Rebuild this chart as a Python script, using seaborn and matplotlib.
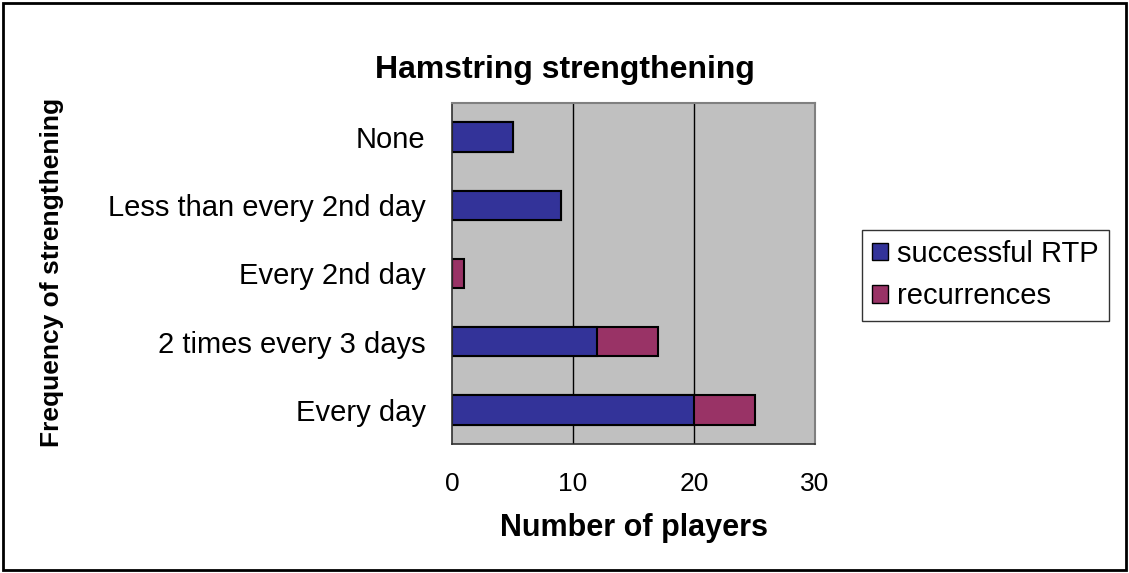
import matplotlib
matplotlib.use("Agg")
import matplotlib.pyplot as plt
from matplotlib.patches import Rectangle, Patch
import seaborn as sns
import pandas as pd

categories = ["None", "Less than every 2nd day", "Every 2nd day", "2 times every 3 days", "Every day"]
successful_rtp = [5, 9, 0, 12, 20]
recurrences = [0, 0, 1, 5, 5]
x_ticks = [0, 10, 20, 30]

sns.set_theme(style="white")
plt.rcParams['font.family'] = ['Liberation Sans', 'DejaVu Sans']
plt.rcParams['text.color'] = 'black'
plt.rcParams['xtick.color'] = 'black'
plt.rcParams['ytick.color'] = 'black'
plt.rcParams['axes.labelcolor'] = 'black'

totals = [s + r for s, r in zip(successful_rtp, recurrences)]
df = pd.DataFrame({"cat": categories, "succ": successful_rtp, "total": totals})

fig = plt.figure(figsize=(11.29, 5.73), dpi=100)
ax = fig.add_axes([452/1129, 1-444/573, (815-452)/1129, (444-103)/573])
ax.set_facecolor("#C0C0C0")

blue = "#333399"
maroon = "#993366"
sns.barplot(data=df, y="cat", x="total", orient="h", color=maroon, saturation=1,
            edgecolor="black", linewidth=1.5, width=0.43, ax=ax, order=categories)
sns.barplot(data=df, y="cat", x="succ", orient="h", color=blue, saturation=1,
            edgecolor="black", linewidth=1.5, width=0.43, ax=ax, order=categories)

ax.set_xlim(0, 30)
ax.set_ylim(4.5, -0.5)
ax.set_xticks(x_ticks)
ax.set_xticklabels([str(t) for t in x_ticks], fontsize=19)
for xv in [10, 20]:
    ax.axvline(xv, color="black", linewidth=1, zorder=0.5)
ax.set_axisbelow(True)

ax.set_yticks(range(len(categories)))
ax.set_yticklabels(categories, fontsize=21)
ax.set_yticks([i - 0.5 for i in range(len(categories) + 1)], minor=True)
ax.tick_params(axis="y", which="major", length=0, pad=19)
ax.tick_params(axis="y", which="minor", length=7, width=1, color="#404040", direction="out")
ax.tick_params(axis="x", which="major", length=6, width=1, color="#404040", direction="out", pad=14)

for s in ["top", "right"]:
    ax.spines[s].set_color("#808080")
    ax.spines[s].set_linewidth(1.5)
for s in ["left", "bottom"]:
    ax.spines[s].set_color("#303030")
    ax.spines[s].set_linewidth(1.2)

ax.set_xlabel("")
ax.set_ylabel("")
fig.text(634/1129, 1-528/573, "Number of players", fontsize=22, fontweight="bold",
         ha="center", va="center")
fig.text(52/1129, 1-272/573, "Frequency of strengthening", rotation=90, fontsize=19,
         fontweight="bold", ha="center", va="center")
fig.text(565/1129, 1-70/573, "Hamstring strengthening", fontsize=23, fontweight="bold",
         ha="center", va="center")

handles = [Patch(facecolor=blue, edgecolor="black", linewidth=1),
           Patch(facecolor=maroon, edgecolor="black", linewidth=1)]
leg = fig.legend(handles, ["successful RTP", "recurrences"], loc="center left",
                 bbox_to_anchor=(862/1129, 1-275/573), fontsize=21, frameon=True,
                 fancybox=False, edgecolor="black", handlelength=0.55, handleheight=0.55,
                 handletextpad=0.3, borderpad=0.35, labelspacing=0.5, borderaxespad=0)
leg.get_frame().set_linewidth(1)

fig.patches.append(Rectangle((3/1129, 3/573), 1123/1129, 567/573, transform=fig.transFigure,
                             fill=False, edgecolor="black", linewidth=2))

fig.savefig("out.png", dpi=100, facecolor="white")
